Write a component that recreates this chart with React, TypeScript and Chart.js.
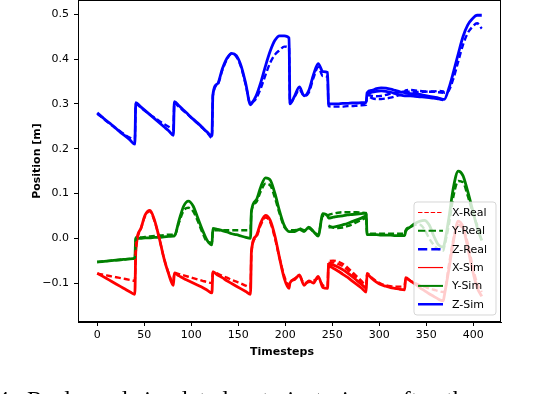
import React, { useEffect, useRef } from "react";
import { Chart, registerables } from "chart.js";

Chart.register(...registerables);

// Timesteps (segment starts 0,41,82,...,369 with 5-step offsets)
const T = [
  0, 5, 10, 15, 20, 25, 30, 35, 40,
  41, 46, 51, 56, 61, 66, 71, 76, 81,
  82, 87, 92, 97, 102, 107, 112, 117, 122,
  123, 128, 133, 138, 143, 148, 153, 158, 163,
  164, 169, 174, 179, 184, 189, 194, 199, 204,
  205, 210, 215, 220, 225, 230, 235, 240, 245,
  246, 251, 256, 261, 266, 271, 276, 281, 286,
  287, 292, 297, 302, 307, 312, 317, 322, 327,
  328, 333, 338, 343, 348, 353, 358, 363, 368,
  369, 374, 379, 384, 389, 394, 399, 404, 409,
];

const xReal = [
  -0.079, -0.081, -0.083, -0.085, -0.087, -0.089, -0.091, -0.093, -0.095,
  -0.030, 0.018, 0.050, 0.060, 0.038, 0.000, -0.045, -0.078, -0.100,
  -0.077, -0.080, -0.083, -0.086, -0.089, -0.092, -0.095, -0.098, -0.100,
  -0.075, -0.079, -0.084, -0.088, -0.093, -0.097, -0.101, -0.106, -0.110,
  -0.030, 0.002, 0.030, 0.046, 0.036, 0.000, -0.045, -0.085, -0.105,
  -0.100, -0.090, -0.085, -0.100, -0.098, -0.095, -0.090, -0.105, -0.108,
  -0.052, -0.050, -0.052, -0.057, -0.065, -0.075, -0.085, -0.095, -0.105,
  -0.078, -0.088, -0.096, -0.102, -0.105, -0.107, -0.108, -0.108, -0.106,
  -0.090, -0.095, -0.100, -0.105, -0.108, -0.112, -0.115, -0.118, -0.120,
  -0.120, -0.060, 0.000, 0.030, 0.020, -0.010, -0.060, -0.100, -0.120,
];

const yReal = [
  -0.053, -0.052, -0.051, -0.050, -0.049, -0.048, -0.047, -0.046, -0.045,
  0.002, 0.002, 0.003, 0.004, 0.005, 0.006, 0.007, 0.008, 0.008,
  0.006, 0.035, 0.062, 0.068, 0.060, 0.038, 0.012, -0.008, -0.010,
  0.018, 0.018, 0.018, 0.018, 0.018, 0.018, 0.018, 0.018, 0.018,
  0.060, 0.080, 0.105, 0.122, 0.118, 0.090, 0.055, 0.025, 0.018,
  0.018, 0.018, 0.022, 0.018, 0.022, 0.015, 0.008, 0.050, 0.050,
  0.052, 0.055, 0.057, 0.058, 0.058, 0.058, 0.058, 0.057, 0.055,
  0.010, 0.010, 0.010, 0.010, 0.010, 0.010, 0.010, 0.010, 0.010,
  0.018, 0.025, 0.030, 0.030, 0.020, 0.000, -0.015, -0.025, -0.028,
  -0.020, 0.030, 0.095, 0.128, 0.125, 0.095, 0.060, 0.030, 0.010,
];

const zReal = [
  0.278, 0.270, 0.261, 0.253, 0.245, 0.238, 0.230, 0.224, 0.220,
  0.300, 0.292, 0.284, 0.276, 0.269, 0.262, 0.255, 0.249, 0.244,
  0.302, 0.293, 0.284, 0.275, 0.265, 0.256, 0.246, 0.236, 0.224,
  0.318, 0.343, 0.375, 0.400, 0.412, 0.405, 0.382, 0.342, 0.300,
  0.302, 0.312, 0.335, 0.365, 0.392, 0.410, 0.420, 0.428, 0.425,
  0.302, 0.316, 0.332, 0.318, 0.325, 0.358, 0.382, 0.362, 0.360,
  0.295, 0.294, 0.294, 0.294, 0.295, 0.295, 0.296, 0.297, 0.298,
  0.318, 0.313, 0.311, 0.311, 0.312, 0.314, 0.317, 0.320, 0.322,
  0.327, 0.327, 0.326, 0.327, 0.327, 0.328, 0.328, 0.329, 0.328,
  0.325, 0.330, 0.358, 0.395, 0.432, 0.458, 0.472, 0.480, 0.468,
];

const xSim = [
  -0.078, -0.084, -0.090, -0.096, -0.102, -0.108, -0.114, -0.120, -0.125,
  -0.030, 0.020, 0.052, 0.062, 0.040, 0.000, -0.045, -0.080, -0.105,
  -0.078, -0.084, -0.090, -0.095, -0.100, -0.105, -0.110, -0.116, -0.122,
  -0.075, -0.082, -0.088, -0.095, -0.101, -0.107, -0.113, -0.119, -0.125,
  -0.030, 0.005, 0.035, 0.051, 0.040, 0.005, -0.045, -0.090, -0.112,
  -0.100, -0.092, -0.082, -0.105, -0.095, -0.100, -0.085, -0.110, -0.112,
  -0.062, -0.067, -0.073, -0.080, -0.087, -0.095, -0.103, -0.111, -0.120,
  -0.080, -0.090, -0.098, -0.104, -0.107, -0.110, -0.112, -0.114, -0.115,
  -0.088, -0.095, -0.102, -0.110, -0.117, -0.124, -0.130, -0.136, -0.140,
  -0.130, -0.070, -0.005, 0.038, 0.025, -0.020, -0.070, -0.110, -0.130,
];

const ySim = [
  -0.053, -0.052, -0.051, -0.050, -0.049, -0.048, -0.047, -0.046, -0.045,
  0.000, 0.000, 0.001, 0.001, 0.002, 0.002, 0.003, 0.004, 0.005,
  0.005, 0.040, 0.072, 0.083, 0.072, 0.045, 0.018, -0.005, -0.015,
  0.022, 0.020, 0.017, 0.014, 0.010, 0.008, 0.005, 0.002, 0.000,
  0.060, 0.085, 0.115, 0.135, 0.130, 0.100, 0.060, 0.028, 0.015,
  0.015, 0.015, 0.020, 0.015, 0.025, 0.015, 0.005, 0.055, 0.050,
  0.045, 0.047, 0.049, 0.050, 0.052, 0.053, 0.054, 0.055, 0.056,
  0.008, 0.008, 0.008, 0.007, 0.007, 0.007, 0.006, 0.006, 0.006,
  0.015, 0.025, 0.033, 0.038, 0.040, 0.030, 0.005, -0.015, -0.020,
  -0.015, 0.045, 0.115, 0.150, 0.140, 0.105, 0.065, 0.025, -0.005,
];

const zSim = [
  0.280, 0.271, 0.262, 0.254, 0.245, 0.236, 0.228, 0.219, 0.210,
  0.303, 0.294, 0.285, 0.276, 0.267, 0.258, 0.249, 0.240, 0.230,
  0.305, 0.296, 0.286, 0.276, 0.266, 0.257, 0.247, 0.237, 0.228,
  0.320, 0.345, 0.378, 0.402, 0.413, 0.408, 0.385, 0.345, 0.298,
  0.300, 0.318, 0.348, 0.385, 0.418, 0.442, 0.452, 0.452, 0.447,
  0.300, 0.318, 0.338, 0.318, 0.330, 0.365, 0.390, 0.372, 0.370,
  0.300, 0.300, 0.300, 0.301, 0.301, 0.302, 0.302, 0.303, 0.303,
  0.325, 0.330, 0.334, 0.336, 0.335, 0.333, 0.330, 0.327, 0.325,
  0.324, 0.323, 0.322, 0.321, 0.319, 0.317, 0.315, 0.313, 0.310,
  0.310, 0.335, 0.372, 0.412, 0.450, 0.476, 0.490, 0.498, 0.498,
];

// Extra runs where the bundle of trajectories visibly spreads
const T6 = [246, 251, 256, 261, 266, 271, 276, 281, 286];
const xSimB6 = [-0.058, -0.060, -0.064, -0.070, -0.077, -0.085, -0.094, -0.103, -0.112];
const xRealB6 = [-0.055, -0.054, -0.057, -0.062, -0.070, -0.079, -0.089, -0.099, -0.109];
const ySimB6 = [0.025, 0.025, 0.027, 0.030, 0.033, 0.037, 0.041, 0.045, 0.050];
const yRealB6 = [0.028, 0.024, 0.023, 0.024, 0.027, 0.031, 0.036, 0.041, 0.046];

const T78 = [
  287, 292, 297, 302, 307, 312, 317, 322, 327,
  328, 333, 338, 343, 348, 353, 358, 363, 368,
];
const zSimB78 = [
  0.322, 0.326, 0.328, 0.329, 0.328, 0.326, 0.323, 0.320, 0.318,
  0.318, 0.318, 0.317, 0.316, 0.315, 0.314, 0.313, 0.311, 0.309,
];
const zRealB78 = [
  0.320, 0.318, 0.317, 0.318, 0.320, 0.323, 0.325, 0.327, 0.328,
  0.330, 0.331, 0.330, 0.329, 0.328, 0.327, 0.327, 0.326, 0.325,
];

const xTicks = [0, 50, 100, 150, 200, 250, 300, 350, 400];
const yTicks = [-0.1, 0.0, 0.1, 0.2, 0.3, 0.4, 0.5];

const labels = ["X-Real", "Y-Real", "Z-Real", "X-Sim", "Y-Sim", "Z-Sim"];
const colors = ["#ff0000", "#008000", "#0000ff", "#ff0000", "#008000", "#0000ff"];
const series = [xReal, yReal, zReal, xSim, ySim, zSim];
const isReal = [true, true, true, false, false, false];
const legendWidths = [1.2, 2, 2.5, 1.2, 2, 2.5];

const extraTimes = [T6, T6, T6, T6, T78, T78];
const extraSeries = [xSimB6, xRealB6, ySimB6, yRealB6, zSimB78, zRealB78];
const extraColors = ["#ff0000", "#ff0000", "#008000", "#008000", "#0000ff", "#0000ff"];
const extraReal = [false, true, false, true, false, true];

const CAPTION_WORDS = ["4.", "Real", "and", "simulated", "trajectories", "after", "the", "re-"];
const CAPTION_X = [-3, 27, 93, 135, 262, 392, 446, 500];

const FONT = "'DejaVu Sans', sans-serif";

const overlayPlugin = {
  id: "overlay",
  afterDatasetsDraw(chart: any) {
    const { ctx, chartArea } = chart;
    const { left, right, top, bottom } = chartArea;
    ctx.save();
    const bx = 414, by = 202, bw = 82, bh = 113, r = 3;
    ctx.beginPath();
    ctx.moveTo(bx + r, by);
    ctx.lineTo(bx + bw - r, by);
    ctx.quadraticCurveTo(bx + bw, by, bx + bw, by + r);
    ctx.lineTo(bx + bw, by + bh - r);
    ctx.quadraticCurveTo(bx + bw, by + bh, bx + bw - r, by + bh);
    ctx.lineTo(bx + r, by + bh);
    ctx.quadraticCurveTo(bx, by + bh, bx, by + bh - r);
    ctx.lineTo(bx, by + r);
    ctx.quadraticCurveTo(bx, by, bx + r, by);
    ctx.closePath();
    ctx.fillStyle = "rgba(255,255,255,0.8)";
    ctx.fill();
    ctx.strokeStyle = "rgba(204,204,204,0.8)";
    ctx.lineWidth = 1;
    ctx.stroke();
    ctx.font = `11px ${FONT}`;
    ctx.textBaseline = "middle";
    ctx.textAlign = "left";
    for (let i = 0; i < labels.length; i++) {
      const cy = 212.5 + i * 18.35;
      ctx.beginPath();
      ctx.strokeStyle = colors[i];
      const w = legendWidths[i];
      ctx.lineWidth = w;
      ctx.setLineDash(isReal[i] ? [3.7 * w, 1.6 * w] : []);
      ctx.moveTo(418, cy);
      ctx.lineTo(443, cy);
      ctx.stroke();
      ctx.setLineDash([]);
      ctx.fillStyle = "#000";
      ctx.fillText(labels[i], 452, cy + 0.5);
    }
    ctx.strokeStyle = "#000";
    ctx.lineWidth = 1;
    ctx.strokeRect(left + 0.5, top + 0.5, right - left - 1, bottom - top - 1);
    ctx.restore();
  },
  afterDraw(chart: any) {
    const { ctx } = chart;
    ctx.save();
    ctx.fillStyle = "#000";
    ctx.font = `bold 11px ${FONT}`;
    ctx.textAlign = "center";
    ctx.textBaseline = "middle";
    ctx.fillText("Timesteps", 282, 352);
    ctx.translate(37, 161);
    ctx.rotate(-Math.PI / 2);
    ctx.fillText("Position [m]", 0, 0);
    ctx.restore();
    ctx.save();
    ctx.fillStyle = "#000";
    ctx.font = "24px 'Liberation Serif', serif";
    ctx.textAlign = "left";
    ctx.textBaseline = "alphabetic";
    CAPTION_WORDS.forEach((w, i) => ctx.fillText(w, CAPTION_X[i], 407));
    ctx.restore();
  },
};

export default function App() {
  const ref = useRef<HTMLCanvasElement | null>(null);
  useEffect(() => {
    document.body.style.margin = "0";
    const canvas = ref.current;
    if (!canvas) return;
    const mk = (times: number[], vals: number[], color: string, real: boolean, label: string) => ({
      label,
      data: times.map((t, k) => ({ x: t, y: vals[k] })),
      borderColor: color,
      backgroundColor: color,
      borderWidth: real ? 2.4 : 2.8,
      borderDash: real ? [6, 3] : [],
      pointRadius: 0,
      fill: false,
      cubicInterpolationMode: "monotone" as const,
    });
    const datasets = [
      ...extraSeries.map((vals, i) => mk(extraTimes[i], vals, extraColors[i], extraReal[i], "extra" + i)),
      ...series.map((vals, i) => mk(T, vals, colors[i], isReal[i], labels[i])),
    ];
    const chart = new Chart(canvas, {
      type: "line",
      data: { datasets },
      plugins: [overlayPlugin],
      options: {
        responsive: false,
        animation: false,
        layout: { padding: { left: 0, top: 0, right: 33, bottom: 0 } },
        plugins: { legend: { display: false }, tooltip: { enabled: false } },
        scales: {
          x: {
            type: "linear",
            min: -20.45,
            max: 429.45,
            afterFit: (s: any) => { s.height = 72; s.paddingLeft = 0; s.paddingRight = 0; },
            afterBuildTicks: (s: any) => { s.ticks = xTicks.map((v) => ({ value: v })); },
            grid: { drawOnChartArea: false, drawTicks: true, tickLength: 4, color: "#000" },
            border: { display: true, color: "#000" },
            ticks: {
              color: "#000",
              padding: 3,
              maxRotation: 0,
              font: { family: FONT, size: 11 },
              callback: (v: any) => String(v),
            },
          },
          y: {
            type: "linear",
            min: -0.187,
            max: 0.532,
            afterFit: (s: any) => { s.width = 78; s.paddingTop = 0; s.paddingBottom = 0; },
            afterBuildTicks: (s: any) => { s.ticks = yTicks.map((v) => ({ value: v })); },
            grid: { drawOnChartArea: false, drawTicks: true, tickLength: 4, color: "#000" },
            border: { display: true, color: "#000" },
            ticks: {
              color: "#000",
              padding: 5,
              font: { family: FONT, size: 11 },
              callback: (v: any) => {
                const n = Number(v);
                const s = Math.abs(n).toFixed(1);
                return n < -1e-9 ? "\u2212" + s : s;
              },
            },
          },
        },
      },
    });
    return () => chart.destroy();
  }, []);
  return (
    <div style={{ position: "fixed", left: 0, top: 0, width: 534, height: 394, background: "#fff" }}>
      <canvas ref={ref} width={534} height={394} style={{ width: 534, height: 394 }} />
    </div>
  );
}
